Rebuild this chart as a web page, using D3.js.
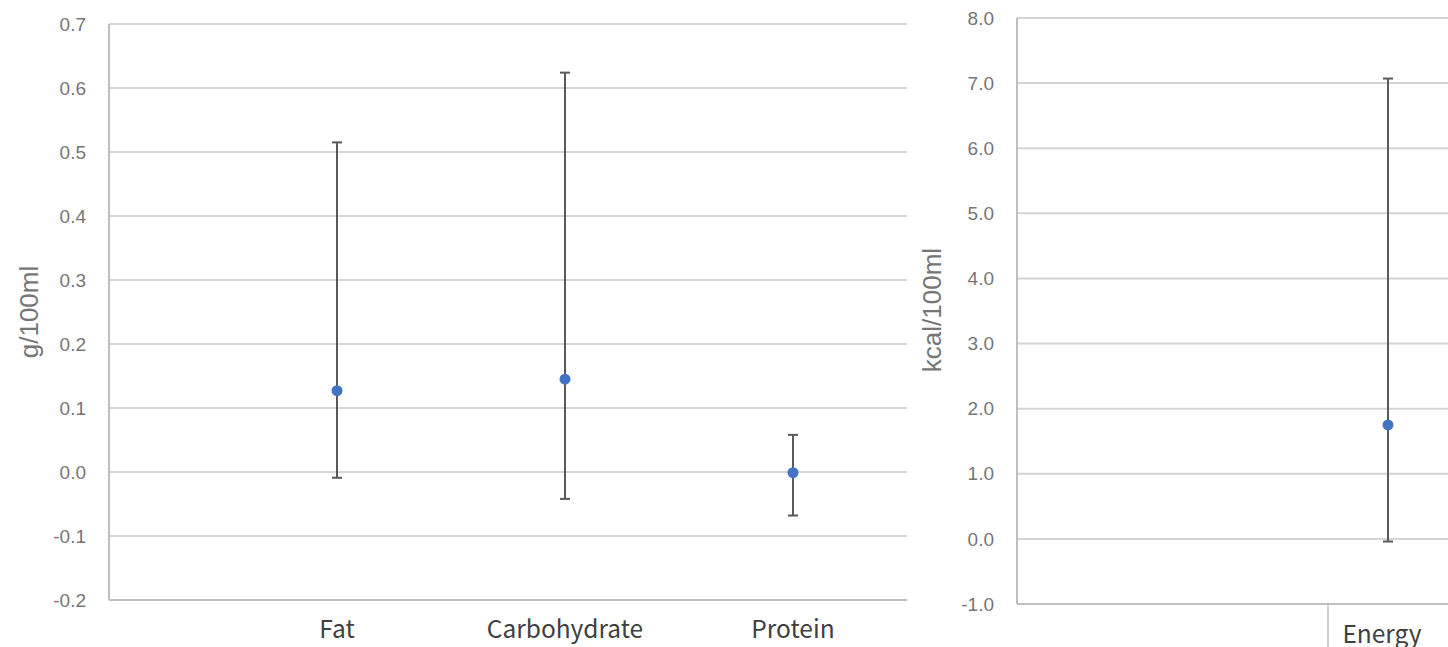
<!DOCTYPE html>
<html>
<head>
<meta charset="utf-8">
<script src="https://cdn.jsdelivr.net/npm/d3@7"></script>
<style>
  body { margin: 0; background: #fff; overflow: hidden; }
  .tick-label { font-family: "Liberation Sans", Arial, sans-serif; font-size: 19px; fill: #767676; }
  .cat-label { font-family: "Noto Sans CJK SC", "Noto Sans", sans-serif; font-size: 24.5px; fill: #404040; }
  .axis-title { font-family: "Liberation Sans", Arial, sans-serif; font-size: 26px; fill: #767676; }
</style>
</head>
<body>
<svg width="1448" height="647"></svg>
<script>
// left chart: macronutrients (g/100ml)
const macroNames = ["Fat", "Carbohydrate", "Protein"]
const macroMean = [0.127, 0.145, -0.001]
const macroLow = [-0.009, -0.042, -0.068]
const macroHigh = [0.515, 0.624, 0.058]
const macroTicks = [-0.2, -0.1, 0.0, 0.1, 0.2, 0.3, 0.4, 0.5, 0.6, 0.7]

// right chart: energy (kcal/100ml)
const energyNames = ["Energy"]
const energyMean = [1.75]
const energyLow = [-0.04]
const energyHigh = [7.07]
const energyTicks = [-1, 0, 1, 2, 3, 4, 5, 6, 7, 8]

const svg = d3.select("svg")

function drawPanel(opt) {
  const g = svg.append("g").attr("transform", `translate(${opt.left},${opt.top})`)

  const y = d3.scaleLinear()
    .domain([opt.ticks[0], opt.ticks[opt.ticks.length - 1]])
    .range([opt.height, 0])

  const x = d3.scaleBand()
    .domain(opt.names)
    .range(opt.bandRange)

  // gridlines
  g.selectAll(".grid")
    .data(opt.ticks)
    .join("line")
    .attr("x1", 0)
    .attr("x2", opt.width)
    .attr("y1", d => y(d))
    .attr("y2", d => y(d))
    .attr("stroke", "#d4d4d4")
    .attr("stroke-width", 2)

  // left axis line
  g.append("line")
    .attr("x1", 0).attr("x2", 0)
    .attr("y1", 0).attr("y2", opt.height)
    .attr("stroke", "#bfbfbf")
    .attr("stroke-width", 2)

  // bottom axis line
  g.append("line")
    .attr("x1", 0).attr("x2", opt.width)
    .attr("y1", opt.height).attr("y2", opt.height)
    .attr("stroke", "#bfbfbf")
    .attr("stroke-width", 2)

  // y tick labels
  g.selectAll(".tick-label")
    .data(opt.ticks)
    .join("text")
    .attr("class", "tick-label")
    .attr("x", -23)
    .attr("y", d => y(d))
    .attr("dy", "0.35em")
    .attr("text-anchor", "end")
    .text(d => d3.format(opt.fmt)(d).replace("−", "-"))

  // category separators (only where the band starts inside the plot)
  if (opt.separators) {
    g.selectAll(".sep")
      .data(opt.names)
      .join("line")
      .attr("x1", d => x(d))
      .attr("x2", d => x(d))
      .attr("y1", opt.height)
      .attr("y2", opt.height + 50)
      .attr("stroke", "#bfbfbf")
      .attr("stroke-width", 1.5)
  }

  // category labels
  g.selectAll(".cat-label")
    .data(opt.names)
    .join("text")
    .attr("class", "cat-label")
    .attr("x", d => x(d) + x.bandwidth() / 2 + opt.labelDx)
    .attr("y", opt.height + opt.labelDy)
    .attr("text-anchor", "middle")
    .text(d => d)

  const cx = i => x(opt.names[i]) + x.bandwidth() / 2

  // error bars
  const rows = opt.names.map((n, i) => ({ n, i }))
  g.selectAll(".err")
    .data(rows)
    .join("line")
    .attr("x1", d => cx(d.i))
    .attr("x2", d => cx(d.i))
    .attr("y1", d => y(opt.high[d.i]))
    .attr("y2", d => y(opt.low[d.i]))
    .attr("stroke", "#595959")
    .attr("stroke-width", 2)

  ;["high", "low"].forEach(k => {
    g.selectAll(".cap-" + k)
      .data(rows)
      .join("line")
      .attr("x1", d => cx(d.i) - 5)
      .attr("x2", d => cx(d.i) + 5)
      .attr("y1", d => y(opt[k][d.i]))
      .attr("y2", d => y(opt[k][d.i]))
      .attr("stroke", "#595959")
      .attr("stroke-width", 2)
  })

  // mean points
  g.selectAll(".dot")
    .data(rows)
    .join("circle")
    .attr("cx", d => cx(d.i))
    .attr("cy", d => y(opt.mean[d.i]))
    .attr("r", 5.5)
    .attr("fill", "#4472c4")

  // axis title
  svg.append("text")
    .attr("class", "axis-title")
    .attr("transform", `translate(${opt.titleX},${opt.titleY}) rotate(-90)`)
    .attr("text-anchor", "middle")
    .text(opt.title)
}

drawPanel({
  left: 109, top: 24, width: 798, height: 576,
  bandRange: [114, 798],
  names: macroNames, mean: macroMean, low: macroLow, high: macroHigh,
  ticks: macroTicks, fmt: ".1f", labelDx: 0, labelDy: 38,
  title: "g/100ml", titleX: 38, titleY: 312
})

drawPanel({
  left: 1017, top: 18, width: 460, height: 586,
  bandRange: [311, 431],
  names: energyNames, mean: energyMean, low: energyLow, high: energyHigh,
  ticks: energyTicks, fmt: ".1f", separators: true, labelDx: -6, labelDy: 39,
  title: "kcal/100ml", titleX: 941, titleY: 310
})
</script>
</body>
</html>
